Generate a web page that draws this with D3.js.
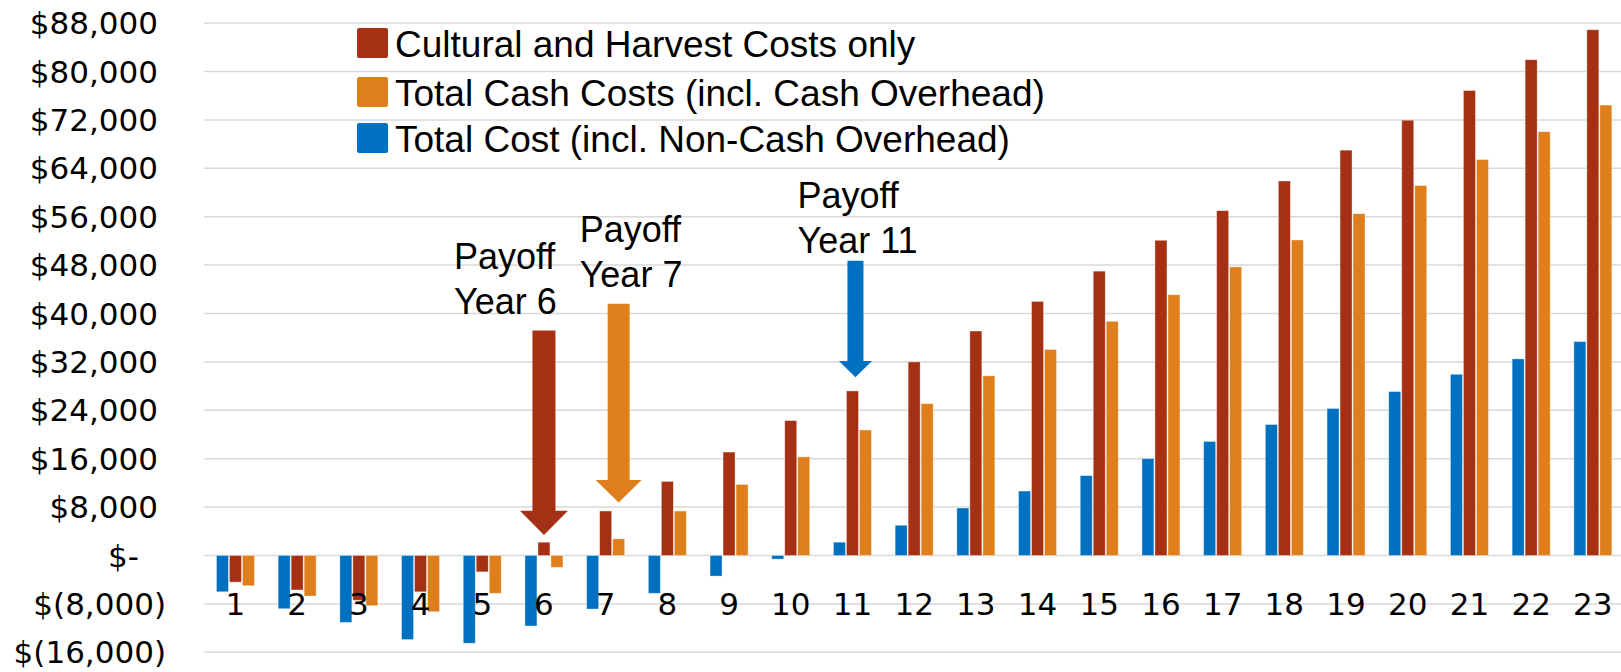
<!DOCTYPE html>
<html>
<head>
<meta charset="utf-8">
<script src="https://cdn.jsdelivr.net/npm/d3@7"></script>
<style>
  html, body { margin: 0; padding: 0; background: #fff; }
  svg { display: block; }
  .axis-label { font-family: "DejaVu Sans", sans-serif; font-size: 31px; fill: #000; }
  .legend-text, .note { font-family: "Liberation Sans", Arial, sans-serif; fill: #000; }
  .legend-text { font-size: 37px; }
  .note { font-size: 36px; }
</style>
</head>
<body>
<svg id="chart" width="1621" height="672"></svg>
<script>
// years on the x axis
const years = [1, 2, 3, 4, 5, 6, 7, 8, 9, 10, 11, 12, 13, 14, 15, 16, 17, 18, 19, 20, 21, 22, 23];

// cumulative net returns ($) for each cost basis
const cultural = [-4400, -5700, -7400, -6000, -2700, 2200, 7350, 12250, 17100, 22300, 27200, 32000,
  37100, 42000, 47000, 52100, 57000, 61900, 67000, 71950, 76850, 81950, 86900];
const totalCash = [-5000, -6700, -8300, -9300, -6250, -1950, 2750, 7350, 11750, 16300, 20750, 25100,
  29700, 34050, 38700, 43100, 47700, 52150, 56500, 61150, 65450, 70050, 74450];
const totalCost = [-6000, -8800, -11050, -13900, -14500, -11650, -8850, -6250, -3400, -600, 2200, 5000,
  7850, 10650, 13200, 16000, 18850, 21650, 24300, 27100, 29950, 32500, 35350];

const yTicks = [-16000, -8000, 0, 8000, 16000, 24000, 32000, 40000, 48000, 56000, 64000, 72000, 80000, 88000];

const series = [
  { key: 'cost', name: 'Total Cost (incl. Non-Cash Overhead)', values: totalCost, color: '#0070C0' },
  { key: 'cultural', name: 'Cultural and Harvest Costs only', values: cultural, color: '#A53013' },
  { key: 'cash', name: 'Total Cash Costs (incl. Cash Overhead)', values: totalCash, color: '#DF7F1C' }
];
const legendOrder = ['cultural', 'cash', 'cost'];

// payoff call-outs: which bar the arrow points at, and where it starts/ends (in $)
const payoffs = [
  { lines: ['Payoff', 'Year 6'], year: 6, key: 'cultural', top: 37200, base: 7400, tip: 3400, label: 40000 },
  { lines: ['Payoff', 'Year 7'], year: 7, key: 'cash', top: 41600, base: 12500, tip: 8750, label: 44450 },
  { lines: ['Payoff', 'Year 11'], year: 11, key: 'cost', top: 48700, base: 32150, tip: 29450, label: 50050 }
];
// arrow look per call-out
const arrowStyle = {
  6: { shaft: 23, head: 48, dx: 0, textDx: -90 },
  7: { shaft: 22, head: 46, dx: 0, textDx: -39 },
  11: { shaft: 16, head: 33, dx: 16, textDx: -58 }
};

const svg = d3.select('#chart');
const width = 1621;

const x = d3.scaleBand().domain(years).range([204.6, 204.6 + 23 * 61.7]).padding(0);
const groupW = 38;
const xs = d3.scaleBand()
  .domain(series.map((s) => s.key))
  .range([(x.bandwidth() - groupW) / 2, (x.bandwidth() + groupW) / 2])
  .paddingInner(1 / 13);
const y = d3.scaleLinear().domain([-16000, 88000]).range([652.3, 23.1]);

// gridlines
svg.append('g')
  .selectAll('line')
  .data(yTicks)
  .join('line')
  .attr('x1', 204)
  .attr('x2', width)
  .attr('y1', (d) => y(d))
  .attr('y2', (d) => y(d))
  .attr('stroke', '#d9d9d9')
  .attr('stroke-width', 1.5);

// y axis labels, accounting style
const fmt = d3.format(',');
svg.append('g')
  .selectAll('text')
  .data(yTicks)
  .join('text')
  .attr('class', 'axis-label')
  .attr('text-anchor', 'end')
  .attr('x', (d) => (d < 0 ? 166 : d === 0 ? 139 : 158))
  .attr('y', (d) => y(d))
  .attr('dy', '0.36em')
  .text((d) => (d < 0 ? `$(${fmt(-d)})` : d === 0 ? '$-' : `$${fmt(d)}`));

// bars
const groups = svg.append('g')
  .selectAll('g')
  .data(years)
  .join('g')
  .attr('transform', (d) => `translate(${x(d)},0)`);

groups.selectAll('rect')
  .data((d, i) => series.map((s) => ({ key: s.key, color: s.color, value: s.values[i] })))
  .join('rect')
  .attr('x', (d) => xs(d.key))
  .attr('width', xs.bandwidth())
  .attr('y', (d) => y(Math.max(0, d.value)))
  .attr('height', (d) => Math.abs(y(d.value) - y(0)))
  .attr('fill', (d) => d.color)
  .attr('stroke', '#fff')
  .attr('stroke-opacity', 0.45)
  .attr('stroke-width', 0.8);

// x axis labels
svg.append('g')
  .selectAll('text')
  .data(years)
  .join('text')
  .attr('class', 'axis-label')
  .attr('text-anchor', 'middle')
  .attr('x', (d) => x(d) + x.bandwidth() / 2)
  .attr('y', 615)
  .text((d) => d);

// legend
const legend = svg.append('g').attr('transform', 'translate(357,0)');
const legendTops = [28, 77, 123];
legendOrder.forEach((k, i) => {
  const s = series.find((d) => d.key === k);
  legend.append('rect')
    .attr('x', 0)
    .attr('y', legendTops[i])
    .attr('width', 31)
    .attr('height', 30)
    .attr('rx', 2)
    .attr('fill', s.color);
  legend.append('text')
    .attr('class', 'legend-text')
    .attr('x', 38)
    .attr('y', legendTops[i] + 29)
    .text(s.name);
});

// payoff arrows
payoffs.forEach((p) => {
  const st = arrowStyle[p.year];
  const color = series.find((s) => s.key === p.key).color;
  const cx = x(p.year) + xs(p.key) + xs.bandwidth() / 2 + st.dx;
  const top = y(p.top), base = y(p.base), tip = y(p.tip);
  const a = st.shaft / 2, h = st.head / 2;
  const pts = [
    [cx - a, top], [cx + a, top], [cx + a, base], [cx + h, base],
    [cx, tip], [cx - h, base], [cx - a, base]
  ];
  svg.append('polygon')
    .attr('points', pts.map((q) => q.join(',')).join(' '))
    .attr('fill', color);

  const t = svg.append('text')
    .attr('class', 'note')
    .attr('x', cx + st.textDx)
    .attr('y', y(p.label) - 45);
  p.lines.forEach((line, i) => {
    t.append('tspan')
      .attr('x', cx + st.textDx)
      .attr('dy', i === 0 ? 0 : 45)
      .text(line);
  });
});
</script>
</body>
</html>
